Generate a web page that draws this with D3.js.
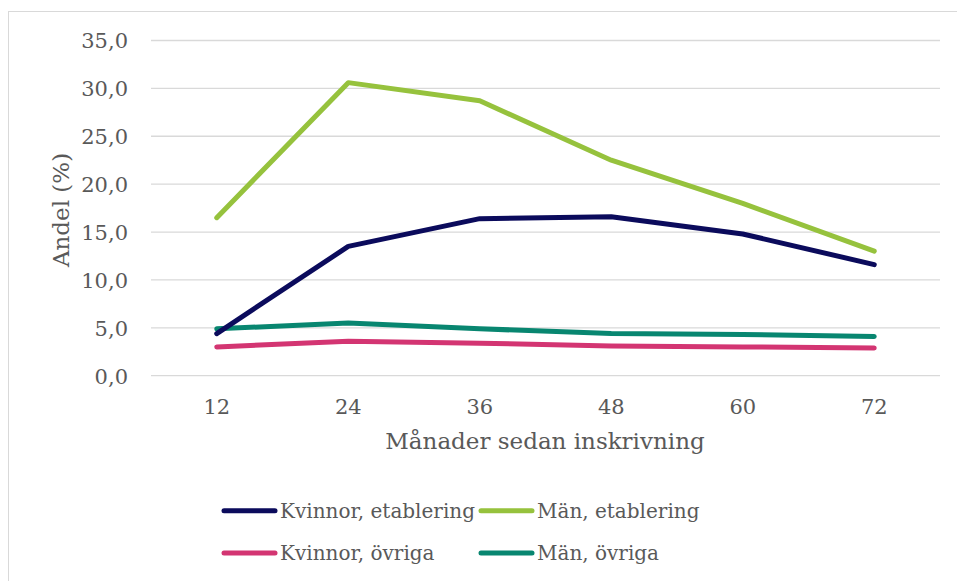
<!DOCTYPE html>
<html><head><meta charset="utf-8">
<script src="https://cdn.jsdelivr.net/npm/d3@7"></script>
<style>body{margin:0;background:#fff}svg{display:block}text{font-family:"DejaVu Serif",serif;fill:#595959}</style>
</head><body><svg id="c" width="957" height="581"></svg>
<script>
const categories = ["12","24","36","48","60","72"];
const kvinnorEtablering = [4.4,13.5,16.4,16.6,14.8,11.6];
const manEtablering = [16.5,30.6,28.7,22.5,18.0,13.0];
const kvinnorOvriga = [3.0,3.6,3.4,3.1,3.0,2.9];
const manOvriga = [4.9,5.5,4.9,4.4,4.3,4.1];
const yTicks = [0,5,10,15,20,25,30,35];
const seriesNames = ["Kvinnor, etablering","Män, etablering","Kvinnor, övriga","Män, övriga"];
const colors = ["#0b0b5c","#96c23d","#d33572","#088670"];
const series = [kvinnorEtablering, manEtablering, kvinnorOvriga, manOvriga];

const svg = d3.select("#c");
svg.append("rect").attr("x",8.5).attr("y",11.5).attr("width",960).attr("height",600)
  .attr("fill","none").attr("stroke","#d9d9d9").attr("stroke-width",1);

const L=151, R=940, T=40.5, B=375.7;
const x = d3.scaleBand().domain(categories).range([L,R]);
const y = d3.scaleLinear().domain([0,35]).range([B,T]);

const g = svg.append("g");
g.selectAll("line.grid").data(yTicks).join("line").attr("class","grid")
  .attr("x1",L).attr("x2",R).attr("y1",d=>y(d)).attr("y2",d=>y(d))
  .attr("stroke","#d9d9d9").attr("stroke-width",1.3);

const fmt = d=>d.toFixed(1).replace(".",",");
const yAxis = svg.append("g").attr("transform",`translate(${L},0)`)
  .call(d3.axisLeft(y).tickValues(yTicks).tickFormat(fmt).tickSize(0).tickPadding(23));
yAxis.select(".domain").remove();
yAxis.selectAll("text").attr("font-size",21).attr("font-family","DejaVu Serif").attr("fill","#595959").attr("dy","0.35em");

const xAxis = svg.append("g").attr("transform",`translate(0,${B})`)
  .call(d3.axisBottom(x).tickSize(0).tickPadding(23));
xAxis.select(".domain").remove();
xAxis.selectAll("text").attr("font-size",21).attr("font-family","DejaVu Serif").attr("fill","#595959");

const line = d3.line().x((d,i)=>x(categories[i])+x.bandwidth()/2).y(d=>y(d));
const order = [2,3,0,1];
svg.append("g").selectAll("path").data(order).join("path")
  .attr("d",i=>line(series[i])).attr("fill","none").attr("stroke",i=>colors[i])
  .attr("stroke-width",5).attr("stroke-linecap","round").attr("stroke-linejoin","round");

svg.append("text").attr("x",545).attr("y",449).attr("text-anchor","middle")
  .attr("font-size",23).text("Månader sedan inskrivning");
svg.append("text").attr("transform","translate(69,210) rotate(-90)").attr("text-anchor","middle")
  .attr("font-size",23).text("Andel (%)");

const leg = [[223,510.7],[480,510.7],[223,553],[480,553]];
seriesNames.forEach((n,i)=>{
  const [lx,ly]=leg[i];
  svg.append("line").attr("x1",lx+1).attr("x2",lx+52).attr("y1",ly).attr("y2",ly)
    .attr("stroke",colors[i]).attr("stroke-width",5).attr("stroke-linecap","round");
  svg.append("text").attr("x",lx+57).attr("y",ly).attr("dy","0.35em").attr("font-size",20).text(n);
});
</script></body></html>
